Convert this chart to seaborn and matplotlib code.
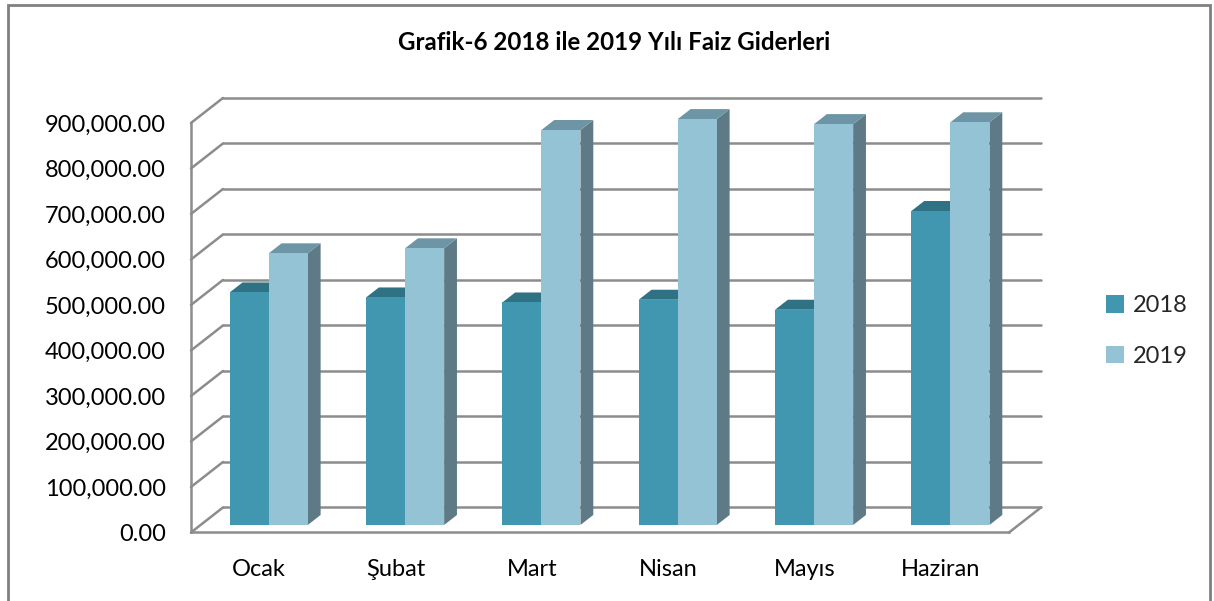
import numpy as np
import pandas as pd
import matplotlib
matplotlib.use('Agg')
import matplotlib.pyplot as plt
import seaborn as sns
from matplotlib.patches import Polygon, Patch, Rectangle

# veriler
AYLAR = ["Ocak", "Şubat", "Mart", "Nisan", "Mayıs", "Haziran"]
YILLAR = ["2018", "2019"]
GIDER_2018 = [511000, 500000, 489000, 495000, 473000, 690000]
GIDER_2019 = [597000, 608000, 868000, 892000, 881000, 885000]
Y_TICKS = [0, 100000, 200000, 300000, 400000, 500000, 600000, 700000, 800000, 900000]

RENK_ON = {"2018": "#4197B0", "2019": "#93C3D4"}
RENK_UST = {"2018": "#2F7283", "2019": "#6E95A5"}
RENK_YAN = {"2018": "#2C6575", "2019": "#5D7A86"}
GRID = "#8C8C8C"

# oblik 3B projeksiyon: arka duvar ofseti (veri birimi)
DX = 0.235
DY = 55000
D0, D1 = 0.3, 0.7   # cubuklarin derinlik araligi

sns.set_theme(style="white")
plt.rcParams['font.family'] = ['Lato', 'DejaVu Sans']

df = pd.DataFrame({
    "ay": AYLAR * 2,
    "yil": [YILLAR[0]] * len(AYLAR) + [YILLAR[1]] * len(AYLAR),
    "tutar": GIDER_2018 + GIDER_2019,
})

fig = plt.figure(figsize=(12.14, 6.01), dpi=100)
ax = fig.add_axes([0.1573, 0.1140, 0.7035, 0.7306])

sns.barplot(data=df, x="ay", y="tutar", hue="yil", order=AYLAR, hue_order=YILLAR,
            palette=[RENK_ON[y] for y in YILLAR], width=0.573, saturation=1,
            errorbar=None, legend=False, ax=ax)

ax.set_xlim(-0.5, 5.5 + 36 / 136.2)
ax.set_ylim(0, 965000)

# on yuzleri derinlige kaydir, ust ve yan yuzleri ekle
bars = [p for p in ax.patches if isinstance(p, Rectangle)]
for i, p in enumerate(bars):
    yil = YILLAR[i // len(AYLAR)]
    x0 = p.get_x() + D0 * DX
    w = p.get_width()
    h = p.get_height()
    y0 = D0 * DY
    p.set_x(x0)
    p.set_y(y0)
    p.set_edgecolor("none")
    p.set_zorder(3)
    ddx = (D1 - D0) * DX
    ddy = (D1 - D0) * DY
    top = Polygon([(x0, y0 + h), (x0 + w, y0 + h), (x0 + w + ddx, y0 + h + ddy),
                   (x0 + ddx, y0 + h + ddy)], closed=True,
                  facecolor=RENK_UST[yil], edgecolor="none", zorder=2.5)
    side = Polygon([(x0 + w, y0), (x0 + w + ddx, y0 + ddy), (x0 + w + ddx, y0 + h + ddy),
                    (x0 + w, y0 + h)], closed=True,
                   facecolor=RENK_YAN[yil], edgecolor="none", zorder=2.4)
    ax.add_patch(top)
    ax.add_patch(side)

# arka duvar cizgileri ve sol duvar baglantilari
for v in Y_TICKS:
    ax.plot([-0.5 + DX, 5.5 + DX], [v + DY, v + DY], color=GRID, lw=1.8, zorder=1, clip_on=False)
    ax.plot([-0.5, -0.5 + DX], [v, v + DY], color=GRID, lw=1.8, zorder=1, clip_on=False)
ax.plot([5.5, 5.5 + DX], [0, DY], color=GRID, lw=1.8, zorder=1, clip_on=False)

# eksenler
for s in ["top", "right"]:
    ax.spines[s].set_visible(False)
for s in ["left", "bottom"]:
    ax.spines[s].set_color(GRID)
    ax.spines[s].set_linewidth(1.8)
    ax.spines[s].set_zorder(1)
ax.spines["left"].set_bounds(0, 900000)
ax.spines["bottom"].set_bounds(-0.5, 5.5)

ax.set_yticks(Y_TICKS)
ax.set_yticklabels([f"{v:,.2f}" for v in Y_TICKS])
ax.tick_params(axis="y", length=5, width=1.5, color=GRID, pad=13, labelsize=17, labelcolor="#000000")
ax.tick_params(axis="x", which="major", length=0, pad=19, labelsize=17, labelcolor="#000000")
ax.set_xticks(np.arange(-0.5, 6, 1), minor=True)
ax.tick_params(axis="x", which="minor", length=6, width=1.5, color=GRID, direction="out")
ax.set_xlabel("")
ax.set_ylabel("")
ax.grid(False)

fig.text(0.506, 1 - 42 / 601, "Grafik-6 2018 ile 2019 Yılı Faiz Giderleri",
         ha="center", va="center", fontsize=17.4, fontweight="bold", color="#000000")

handles = [Patch(facecolor=RENK_ON[y], edgecolor="none") for y in YILLAR]
fig.legend(handles, YILLAR, loc="center left", bbox_to_anchor=(0.8935, 1 - 331 / 601),
           frameon=False, fontsize=17, handlelength=0.75, handleheight=0.75,
           handletextpad=0.4, labelspacing=1.25)

# grafik alani cercevesi
fig.patches.append(Rectangle((8 / 1214, -0.02), (1210 - 8) / 1214, 1 - 5 / 601 + 0.02,
                             transform=fig.transFigure, fill=False, edgecolor="#808080",
                             lw=2, zorder=0))

fig.savefig("out.png", dpi=100)
